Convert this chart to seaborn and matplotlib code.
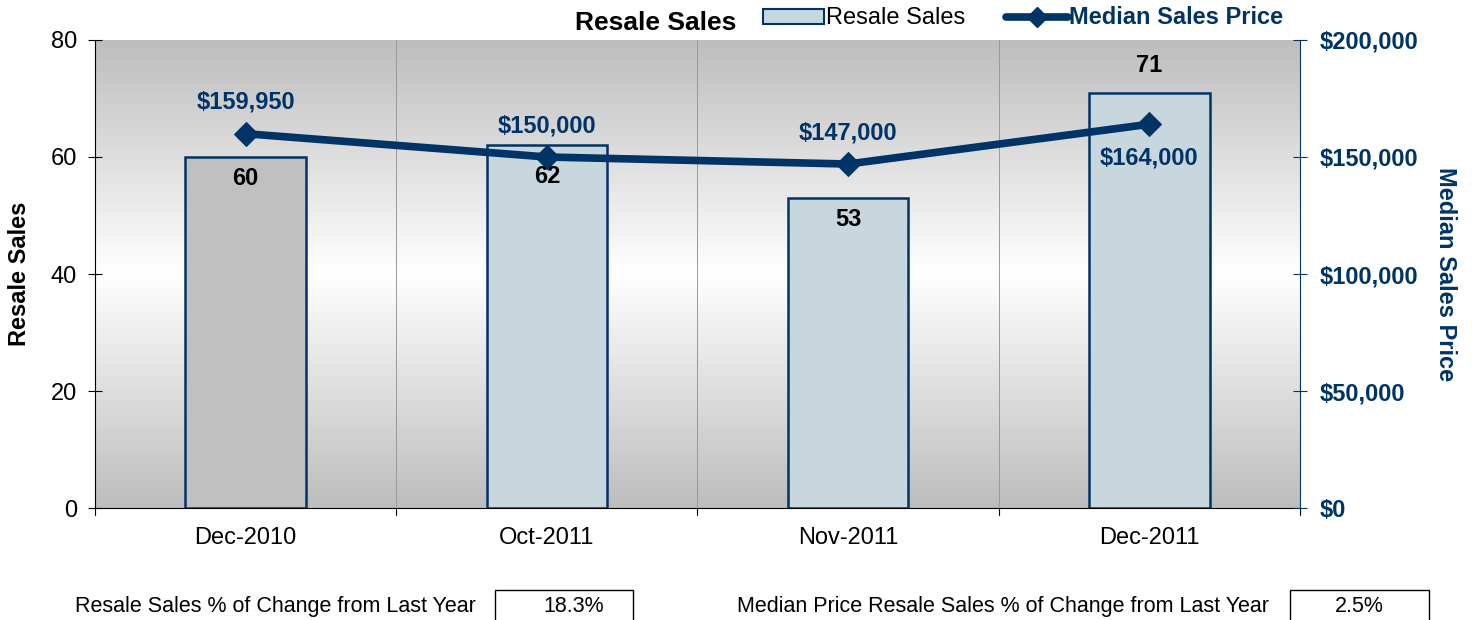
import pandas as pd
import matplotlib.pyplot as plt
import seaborn as sns
import numpy as np
from matplotlib.patches import Patch
from matplotlib.lines import Line2D

months = ["Dec-2010", "Oct-2011", "Nov-2011", "Dec-2011"]
resale_sales = [60, 62, 53, 71]
median_price = [159950, 150000, 147000, 164000]
price_labels = ["$159,950", "$150,000", "$147,000", "$164,000"]
sales_change = "18.3%"
price_change = "2.5%"

navy = "#003366"
bar_colors = ["#c0c0c0", "#c5d9e0", "#c5d9e0", "#c5d9e0"]

sns.set_style("white")
plt.rcParams['font.family'] = ['Liberation Sans', 'DejaVu Sans']
plt.rcParams['text.color'] = 'black'
plt.rcParams['axes.labelcolor'] = 'black'
plt.rcParams['xtick.color'] = 'black'
plt.rcParams['ytick.color'] = 'black'

df = pd.DataFrame({"Month": months, "Sales": resale_sales, "Price": median_price})

fig = plt.figure(figsize=(14.73, 6.2), dpi=100)
ax = fig.add_axes([0.0645, 0.1806, 0.818, 0.7549])

# gradient background: gray - white - gray
grad = np.abs(np.linspace(-1, 1, 256)).reshape(-1, 1)
cmap = plt.matplotlib.colors.LinearSegmentedColormap.from_list("g", ["#ffffff", "#bdbdbd"])
ax.imshow(grad, cmap=cmap, aspect='auto', extent=(-0.5, 3.5, 0, 80), zorder=0, vmin=0, vmax=1)

sns.barplot(data=df, x="Month", y="Sales", hue="Month", palette=bar_colors, legend=False,
            width=0.4, edgecolor=navy, linewidth=1.8, ax=ax, zorder=3)

for b in [0.5, 1.5, 2.5]:
    ax.axvline(b, color="#999999", linewidth=0.7, zorder=1)

ax.set_xlim(-0.5, 3.5)
ax.set_ylim(0, 80)
ax.set_yticks([0, 20, 40, 60, 80])
ax.set_xticks([0, 1, 2, 3])
ax.set_xticklabels(months, fontsize=17)
ax.tick_params(axis='y', labelsize=17, length=10, direction='inout', left=True, width=0.8, pad=8)
ax.tick_params(axis='x', length=0, pad=14)
ax.set_xlabel("")
ax.set_ylabel("Resale Sales", fontsize=17, fontweight='bold', labelpad=14)
for s in ["top", "right"]:
    ax.spines[s].set_visible(False)
for s in ["left", "bottom"]:
    ax.spines[s].set_color("black")
    ax.spines[s].set_linewidth(0.8)
# tick marks between categories on x axis
for b in [-0.5, 0.5, 1.5, 2.5, 3.5]:
    ax.plot([b, b], [0, -1.2], color="black", linewidth=0.8, clip_on=False, zorder=5)

ax2 = ax.twinx()
sns.lineplot(x=[0, 1, 2, 3], y=median_price, color=navy, linewidth=5.5, marker='D', markersize=12,
             markeredgecolor=navy, ax=ax2, zorder=5)
ax2.set_ylim(0, 200000)
ax2.set_yticks([0, 50000, 100000, 150000, 200000])
ax2.set_yticklabels(["$0", "$50,000", "$100,000", "$150,000", "$200,000"], fontsize=17,
                    fontweight='bold', color=navy)
ax2.tick_params(axis='y', length=10, direction='inout', right=True, color=navy, width=0.8, pad=9)
ax2.set_ylabel("Median Sales Price", fontsize=17, fontweight='bold', color=navy, rotation=270, labelpad=28)
for s in ["top", "left", "bottom"]:
    ax2.spines[s].set_visible(False)
ax2.spines["right"].set_color(navy)
ax2.spines["right"].set_linewidth(0.8)

# sales labels (drawn on top axes so the line does not cover them)
for i, v in enumerate(resale_sales):
    if i == 3:
        ax2.text(i, v + 2.6, str(v), ha='center', va='bottom', fontsize=17, fontweight='bold',
                 transform=ax.transData, zorder=6)
    else:
        # keep the label under the price line
        y = min(v - 3.6, median_price[i] / 2500 - 3.4)
        ax2.text(i, y, str(v), ha='center', va='center', fontsize=17, fontweight='bold',
                 transform=ax.transData, zorder=6)

for i, (v, lab) in enumerate(zip(median_price, price_labels)):
    if i == 3:
        ax2.text(i, v - 9500, lab, ha='center', va='top', fontsize=17, fontweight='bold', color=navy)
    else:
        ax2.text(i, v + 8500, lab, ha='center', va='bottom', fontsize=17, fontweight='bold', color=navy)

# title and legend
fig.text(0.445, 0.963, "Resale Sales", ha='center', va='center', fontsize=19, fontweight='bold')
handles = [Patch(facecolor="#c5d9e0", edgecolor=navy, linewidth=1.5),
           Line2D([0], [0], color=navy, linewidth=5.5, marker='D', markersize=10)]
leg = fig.legend(handles, ["Resale Sales", "Median Sales Price"], loc='center left',
                 bbox_to_anchor=(0.518, 0.971), ncol=2, frameon=False, fontsize=17,
                 handlelength=2.6, handleheight=0.6, handletextpad=0.05, columnspacing=1.75,
                 borderaxespad=0, borderpad=0)
leg.get_texts()[1].set_color(navy)
leg.get_texts()[1].set_fontweight('bold')

# bottom change boxes
fig.text(0.051, 0.022, "Resale Sales % of Change from Last Year", ha='left', va='center', fontsize=15.5)
fig.text(0.3895, 0.022, sales_change, ha='center', va='center', fontsize=15.5)
fig.add_artist(plt.Rectangle((0.336, -0.01), 0.094, 0.058, transform=fig.transFigure,
                             fill=False, edgecolor='black', linewidth=1))
fig.text(0.5005, 0.022, "Median Price Resale Sales % of Change from Last Year", ha='left', va='center', fontsize=15.5)
fig.text(0.9225, 0.022, price_change, ha='center', va='center', fontsize=15.5)
fig.add_artist(plt.Rectangle((0.876, -0.01), 0.094, 0.058, transform=fig.transFigure,
                             fill=False, edgecolor='black', linewidth=1))

fig.savefig("out.png", dpi=100)
